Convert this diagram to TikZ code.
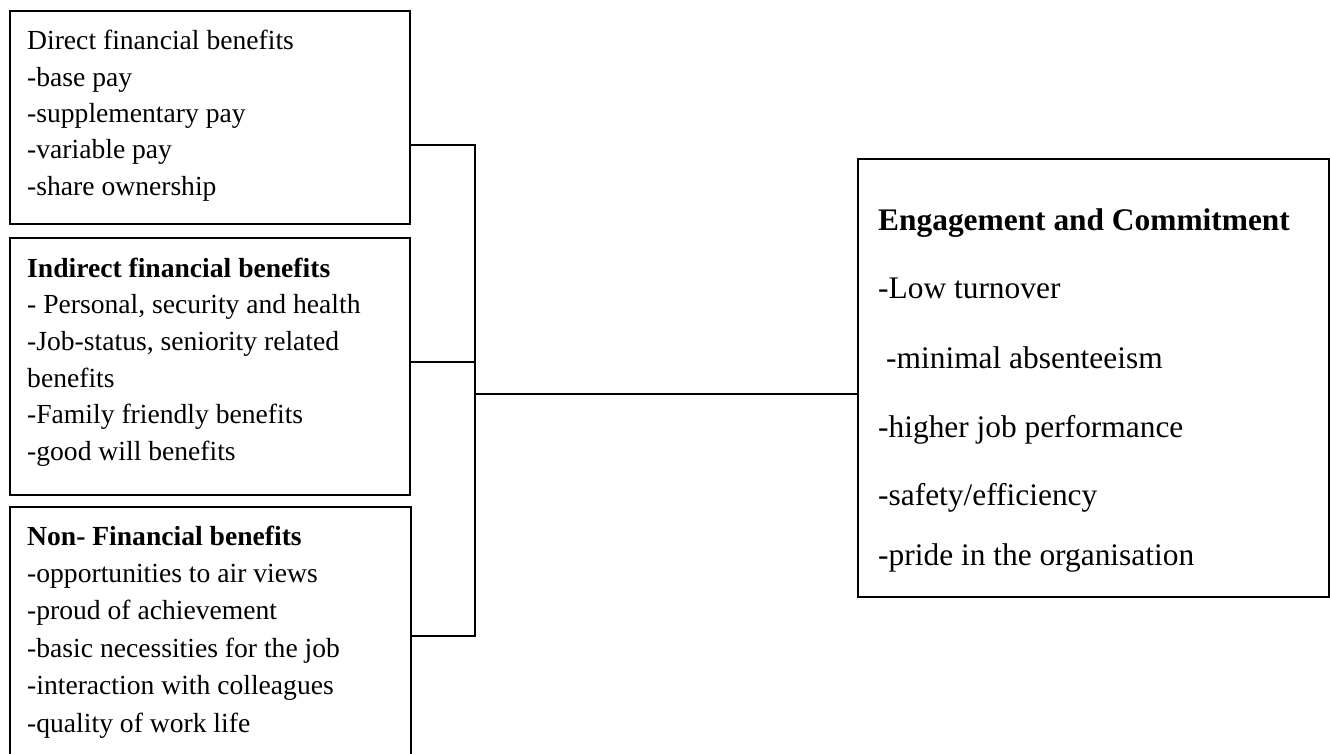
\documentclass[tikz,border=0pt]{standalone}
\usepackage{fontspec}
\setmainfont{Liberation Serif}
\begin{document}
\begin{tikzpicture}[x=1pt,y=-1pt,
  box/.style={draw=black,line width=1.8pt,inner sep=0pt,anchor=north west,fill=none},
  txt/.style={anchor=base west,inner sep=0pt,font=\fontsize{27.6}{33}\selectfont},
  btxt/.style={txt,font=\fontsize{27.6}{33}\selectfont\bfseries},
  rtxt/.style={anchor=base west,inner sep=0pt,font=\fontsize{31.4}{37}\selectfont},
  rbtxt/.style={rtxt,font=\fontsize{31.4}{37}\selectfont\bfseries},
  conn/.style={draw=black,line width=1.6pt}]
\useasboundingbox (0,0) rectangle (1330,754);
\clip (0,0) rectangle (1330,754);
% boxes
\node[box,minimum width=400pt,minimum height=213pt] (d) at (9,10) {};
\node[box,minimum width=400pt,minimum height=257pt] (ind) at (9,237) {};
\node[box,minimum width=401pt,minimum height=280pt] (non) at (9,506) {};
\node[box,minimum width=471pt,minimum height=438pt] (eng) at (857,158) {};
% texts box 1
\node[txt] (d0) at (27,50) {Direct financial benefits};
\node[txt] (d1) at (27,87) {-base pay};
\node[txt] (d2) at (27,123) {-supplementary pay};
\node[txt] (d3) at (27,159) {-variable pay};
\node[txt] (d4) at (27,196) {-share ownership};
% texts box 2
\node[btxt] (i0) at (27,277) {Indirect financial benefits};
\node[txt] (i1) at (27,313) {- Personal, security and health};
\node[txt] (i2) at (27,350) {-Job-status, seniority related};
\node[txt] (i3) at (27,387) {benefits};
\node[txt] (i4) at (27,423) {-Family friendly benefits};
\node[txt] (i5) at (27,460) {-good will benefits};
% texts box 3
\node[btxt] (n0) at (27,545) {Non- Financial benefits};
\node[txt] (n1) at (27,582) {-opportunities to air views};
\node[txt] (n2) at (27,619) {-proud of achievement};
\node[txt] (n3) at (27,657) {-basic necessities for the job};
\node[txt] (n4) at (27,694) {-interaction with colleagues};
\node[txt] (n5) at (27,732) {-quality of work life};
% texts right box
\node[rbtxt] (e0) at (878,230) {Engagement and Commitment};
\node[rtxt] (e1) at (878,298) {-Low turnover};
\node[rtxt] (e2) at (886,368) {-minimal absenteeism};
\node[rtxt] (e3) at (878,437) {-higher job performance};
\node[rtxt] (e4) at (878,505) {-safety/efficiency};
\node[rtxt] (e5) at (878,565) {-pride in the organisation};
% connectors
\coordinate (top) at (475,145);
\coordinate (mid) at (475,362);
\coordinate (bot) at (475,636);
\coordinate (j) at (475,394);
\draw[conn] (d.east |- top) -- (top) -- (bot) -- (non.east |- bot);
\draw[conn] (ind.east |- mid) -- (mid);
\draw[conn] (j) -- (eng.west |- j);
\end{tikzpicture}
\end{document}
